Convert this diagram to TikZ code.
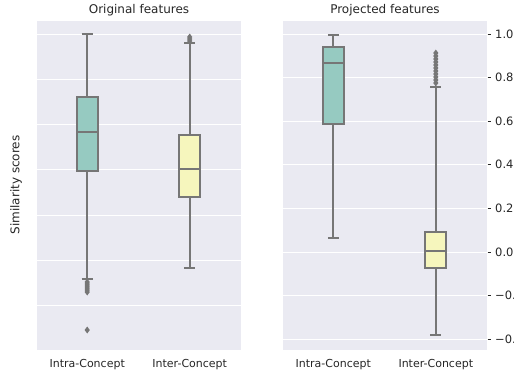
\documentclass[tikz,border=0pt]{standalone}
\usepackage{fontspec}
\setmainfont{DejaVu Sans}
\definecolor{panelbg}{RGB}{234,234,242}
\definecolor{strokegray}{RGB}{118,118,118}
\definecolor{intrafill}{RGB}{150,202,193}
\definecolor{interfill}{RGB}{246,246,189}
\definecolor{labeltext}{RGB}{38,38,38}

\begin{document}
\begin{tikzpicture}[x=1pt,y=-1pt,
	panel/.style={fill=panelbg},
	gridline/.style={draw=white,line width=1pt},
	whisker/.style={draw=strokegray,line width=1.7pt},
	outlier/.style={fill=strokegray},
	title/.style={text=labeltext,font=\fontsize{12}{14}\selectfont,inner sep=0pt},
	ticklabel/.style={text=labeltext,font=\fontsize{11}{13}\selectfont,inner sep=0pt},
	valuelabel/.style={ticklabel,font=\fontsize{11.5}{13}\selectfont,anchor=west}]
	\useasboundingbox (0,0) rectangle (514,376);

	\fill[panel] (37,21) rectangle (241,350);
	\fill[panel] (283,21) rectangle (487,350);

	\foreach \k in {0,...,6}
		\draw[gridline] (37,34+45.3*\k) -- (241,34+45.3*\k);
	\foreach \v [count=\k from 0] in {1.0,0.8,0.6,0.4,0.2,0.0,−0.2,−0.4} {
		\draw[gridline] (283,34+43.6*\k) -- (487,34+43.6*\k);
		\draw[draw=labeltext,line width=0.9pt] (487.5,34+43.6*\k) -- (491,34+43.6*\k);
		\node[valuelabel] (tick\k) at (495,34+43.6*\k) {\v};
	}

	\foreach \cx/\hi/\qa/\md/\qb/\lo/\col in {
		87.2/34/96.7/132.3/170.7/279/intrafill,
		189.7/43.3/135/169/196.7/268/interfill,
		333.3/34.7/47.3/63/124.3/237.7/intrafill,
		435.8/86.7/232/251/268.3/335/interfill} {
		\draw[whisker] (\cx,\hi) -- (\cx,\qa) (\cx,\qb) -- (\cx,\lo);
		\draw[whisker] (\cx-5.5,\hi) -- (\cx+5.5,\hi) (\cx-5.5,\lo) -- (\cx+5.5,\lo);
		\filldraw[whisker,fill=\col] (\cx-10.5,\qa) rectangle (\cx+10.5,\qb);
		\draw[whisker] (\cx-10.5,\md) -- (\cx+10.5,\md);
	}

	\foreach \cx/\y in {87.2/282,87.2/284,87.2/286,87.2/288,87.2/290,87.2/292,87.2/330,
		189.7/37,189.7/39,189.7/41,
		435.8/53,435.8/56,435.8/59,435.8/62,435.8/65,435.8/68,435.8/71,
		435.8/74,435.8/77,435.8/80,435.8/83}
		\fill[outlier] (\cx,\y) +(0,-3.5) -- +(2.6,0) -- +(0,3.5) -- +(-2.6,0) -- cycle;

	\node[title] (origtitle) at (139,10) {Original features};
	\node[title] (projtitle) at (385,10) {Projected features};
	\node[title,rotate=90] (ylabel) at (16,185) {Similarity scores};

	\node[ticklabel] (intraorig) at (87.2,365) {Intra-Concept};
	\node[ticklabel] (interorig) at (189.7,365) {Inter-Concept};
	\node[ticklabel] (intraproj) at (333.3,365) {Intra-Concept};
	\node[ticklabel] (interproj) at (435.8,365) {Inter-Concept};
\end{tikzpicture}
\end{document}
